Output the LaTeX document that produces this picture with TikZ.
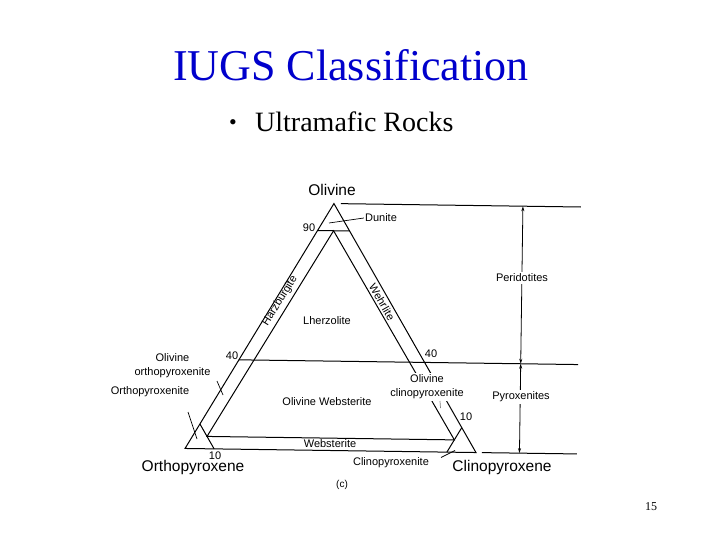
\documentclass[tikz,border=0pt]{standalone}
\usepackage{fontspec}
\setmainfont{Liberation Serif}
\newfontfamily\arialf{Liberation Sans}
\usetikzlibrary{arrows.meta}
\definecolor{titleblue}{RGB}{0,0,204}
\begin{document}
\begin{tikzpicture}[x=1pt,y=-1pt,
  lab/.style={font=\arialf\fontsize{11}{14}\selectfont, inner sep=1pt},
  biglab/.style={font=\arialf\fontsize{15.5}{18}\selectfont, inner sep=1pt},
  edgeline/.style={line width=1pt, black},
  leader/.style={line width=0.7pt, black},
  arr/.style={line width=0.8pt, {Stealth[length=5pt,width=3pt]}-{Stealth[length=5pt,width=3pt]}}]
\useasboundingbox[fill=white] (0,0) rectangle (720,540);

% titles
\node[font=\fontsize{44}{50}\selectfont, text=titleblue, anchor=base, inner sep=0] (title) at (351,81) {IUGS Classification};
\node[font=\fontsize{22}{26}\selectfont, inner sep=0] (bul) at (233,125) {\textbullet};
\node[font=\fontsize{28}{32}\selectfont, anchor=base west, inner sep=0] (sub) at (255,132) {Ultramafic Rocks};
\node[font=\fontsize{12}{14}\selectfont, anchor=base, inner sep=0] (pg) at (651,510) {15};

% ternary diagram (slightly rotated like the scan)
\begin{scope}[shift={(330.5,450.5)}, rotate=-0.8]
  \coordinate (A) at (0,-247);
  \coordinate (B) at (-145.5,0);
  \coordinate (C) at (145.5,0);
  \coordinate (O90L) at (-16.0,-219.8);
  \coordinate (O90R) at (16.0,-219.8);
  \coordinate (O90M) at (0,-219.8);
  \coordinate (O40L) at (-92.8,-89.4);
  \coordinate (O40X) at (246.5,-89.4);
  \coordinate (P1) at (-123.7,-12.35);
  \coordinate (P2) at (123.7,-12.35);
  \coordinate (X1) at (-130.95,-24.7);
  \coordinate (X2) at (-116.4,0);
  \coordinate (Y1) at (130.95,-24.7);
  \coordinate (Y2) at (116.4,0);
  \coordinate (T1) at (7,-247);
  \coordinate (T2) at (247,-247);
  \coordinate (E1) at (151.5,0);
  \coordinate (E2) at (246.5,0);
  \coordinate (V1) at (189,-247);
  \coordinate (V2) at (189,-89.4);
  \coordinate (V3) at (189,0);

  \draw[edgeline] (A) -- (B) -- (C) -- cycle;
  \draw[edgeline] (O90L) -- (O90R);
  \draw[edgeline] (O40L) -- (O40X);
  \draw[edgeline] (O90M) -- (P1) -- (P2) -- cycle;
  \draw[edgeline] (X1) -- (X2);
  \draw[edgeline] (Y1) -- (Y2);
  \draw[edgeline] (T1) -- (T2);
  \draw[edgeline] (E1) -- (E2);
  \draw[arr] (V1) -- (V2);
  \draw[arr] (V2) -- (V3);
\end{scope}

% labels
\node[biglab] (ol) at (332,190) {Olivine};
\node[biglab] (opx) at (193,467) {Orthopyroxene};
\node[biglab] (cpx) at (502,467) {Clinopyroxene};
\node[lab] (dun) at (381,218) {Dunite};
\node[lab] (n90) at (309,228) {90};
\node[lab, rotate=58.5] (harz) at (280,301) {Harzburgite};
\node[lab, rotate=-60] (wehr) at (382,302) {Wehrlite};
\node[lab] (lherz) at (327,321) {Lherzolite};
\node[lab] (n40l) at (232,356) {40};
\node[lab] (n40r) at (431,354) {40};
\node[lab, align=center] (olopx) at (172.5,366) {Olivine\\orthopyroxenite};
\node[lab] (opxite) at (150,392) {Orthopyroxenite};
\node[lab, align=center, fill=white, inner sep=2pt] (olcpx) at (427,387) {Olivine\\clinopyroxenite};
\node[lab] (olweb) at (327,402) {Olivine Websterite};
\node[lab] (n10r) at (466,417) {10};
\node[lab] (web) at (330,444) {Websterite};
\node[lab] (n10b) at (215,456) {10};
\node[lab] (cpxite) at (391,463) {Clinopyroxenite};
\node[lab, font=\arialf\fontsize{10}{12}\selectfont] (cc) at (342,485) {(c)};
\node[lab, fill=white, inner sep=2pt] (perid) at (522,278) {Peridotites};
\node[lab, fill=white, inner sep=2pt] (pyrox) at (521,397) {Pyroxenites};

% leader lines and ticks
\coordinate (dunpt) at (329,223);
\draw[leader] (dun.west) -- (dunpt);
\coordinate (t1a) at (217,381);
\coordinate (t1b) at (223,395);
\draw[leader] (t1a) -- (t1b);
\coordinate (t2a) at (188,412);
\coordinate (t2b) at (197,439);
\draw[leader] (t2a) -- (t2b);
\coordinate (t3a) at (440,401);
\coordinate (t3b) at (440.5,408);
\draw[leader, gray] (t3a) -- (t3b);
\coordinate (t4a) at (441,457.5);
\coordinate (t4b) at (455,450.5);
\draw[leader] (t4a) -- (t4b);
\end{tikzpicture}
\end{document}
